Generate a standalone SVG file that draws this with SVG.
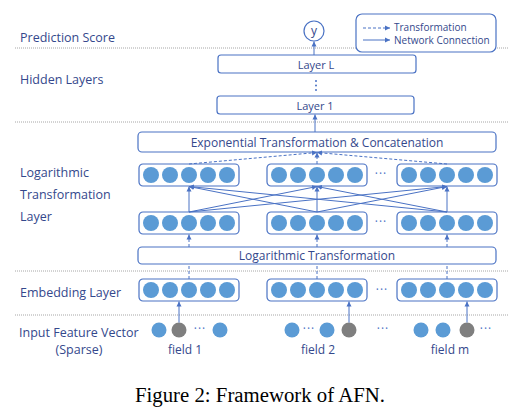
<svg xmlns="http://www.w3.org/2000/svg" width="528" height="416" viewBox="0 0 528 416">
<style>
.lbl{font-family:"Open Sans","Noto Sans",sans-serif;font-size:12.5px;fill:#34488c}
.box{font-family:"Open Sans","Noto Sans",sans-serif;font-size:12px;fill:#34488c;text-anchor:middle}
.sm{font-family:"Open Sans","Noto Sans",sans-serif;font-size:10px;fill:#34488c}
.dots{font-family:"Open Sans","Noto Sans",sans-serif;font-size:12px;fill:#4a72c4;text-anchor:middle;letter-spacing:1px}
.sep{stroke:#a6a6a6;stroke-width:1;stroke-dasharray:1 1;fill:none}
.frame{fill:#fff;stroke:#4a72c4;stroke-width:1.2}
.n{fill:#5b9bd5}
.g{fill:#7f7f7f}
.sol{stroke:#4a72c4;stroke-width:1;fill:none}
.das{stroke:#4a72c4;stroke-width:1;fill:none;stroke-dasharray:3 2}
.cap{font-family:"Liberation Serif","Times New Roman",serif;font-size:20px;fill:#000;text-anchor:middle}
</style>
<defs>
<marker id="ah" markerWidth="6" markerHeight="6" refX="5" refY="3" orient="auto" markerUnits="userSpaceOnUse">
<path d="M0,0.5 L5,3 L0,5.5 Z" fill="#4a72c4"/>
</marker>
<g id="row">
<rect x="0" y="0" width="100" height="22" rx="4" class="frame"/>
<circle cx="12" cy="11" r="8" class="n"/>
<circle cx="31" cy="11" r="8" class="n"/>
<circle cx="50" cy="11" r="8" class="n"/>
<circle cx="69" cy="11" r="8" class="n"/>
<circle cx="88" cy="11" r="8" class="n"/>
</g>
</defs>
<rect width="528" height="416" fill="#fff"/>

<g id="separators">
<line x1="15" y1="48" x2="508" y2="48" class="sep"/>
<line x1="15" y1="122" x2="508" y2="122" class="sep"/>
<line x1="15" y1="271" x2="508" y2="271" class="sep"/>
<line x1="15" y1="315" x2="508" y2="315" class="sep"/>
</g>

<g id="labels">
<text x="20" y="42" class="lbl">Prediction Score</text>
<text x="20" y="84" class="lbl">Hidden Layers</text>
<text x="20" y="177" class="lbl">Logarithmic</text>
<text x="20" y="199" class="lbl">Transformation</text>
<text x="20" y="221" class="lbl">Layer</text>
<text x="20" y="297" class="lbl">Embedding Layer</text>
<text x="19" y="336.5" class="lbl">Input Feature Vector</text>
<text x="79" y="353.5" class="lbl" text-anchor="middle">(Sparse)</text>
</g>

<g id="legend">
<rect x="356" y="14" width="140" height="38" rx="6" class="frame"/>
<line x1="363" y1="28" x2="390" y2="28" class="das" marker-end="url(#ah)"/>
<line x1="363" y1="40" x2="390" y2="40" class="sol" marker-end="url(#ah)"/>
<text x="394" y="31" class="sm">Transformation</text>
<text x="394" y="43.5" class="sm">Network Connection</text>
</g>

<g id="output">
<circle cx="314" cy="31" r="10" fill="#fff" stroke="#4a72c4" stroke-width="1.2"/>
<text x="314" y="35" class="box">y</text>
</g>

<g id="layerL">
<rect x="218" y="55" width="198" height="18" rx="3" class="frame"/>
<text x="316" y="68.5" class="box" style="font-size:11px">Layer L</text>
</g>
<g id="vdots" fill="#4a72c4">
<circle cx="316" cy="81" r="1"/>
<circle cx="316" cy="85.5" r="1"/>
<circle cx="316" cy="90" r="1"/>
</g>
<g id="layer1">
<rect x="217" y="96" width="197" height="18" rx="3" class="frame"/>
<text x="315" y="109.5" class="box" style="font-size:11px">Layer 1</text>
</g>

<g id="exp">
<rect x="138" y="132" width="358" height="20" rx="4" class="frame"/>
<text x="317" y="146.5" class="box">Exponential Transformation &amp; Concatenation</text>
</g>

<g id="logtop">
<use href="#row" x="139" y="164"/>
<use href="#row" x="267" y="164"/>
<use href="#row" x="397" y="164"/>
<text x="381" y="178" class="dots">···</text>
</g>

<g id="logbottom">
<use href="#row" x="139" y="212"/>
<use href="#row" x="267" y="212"/>
<use href="#row" x="397" y="212"/>
<text x="381" y="226" class="dots">···</text>
</g>

<g id="logt">
<rect x="138" y="247" width="358" height="17" rx="4" class="frame"/>
<text x="317" y="260" class="box">Logarithmic Transformation</text>
</g>

<g id="embedding">
<use href="#row" x="139" y="279"/>
<use href="#row" x="267" y="279"/>
<use href="#row" x="397" y="279"/>
<text x="382" y="294" class="dots">···</text>
</g>

<g id="field1">
<circle cx="159" cy="330" r="7.5" class="n"/>
<circle cx="179" cy="330" r="7.5" class="g"/>
<text x="200" y="333" class="dots">···</text>
<circle cx="220" cy="330" r="7.5" class="n"/>
<text x="185" y="354" class="box">field 1</text>
</g>
<g id="field2">
<circle cx="292" cy="330" r="7.5" class="n"/>
<text x="309" y="333" class="dots">···</text>
<circle cx="327" cy="330" r="7.5" class="n"/>
<circle cx="349" cy="330" r="7.5" class="g"/>
<text x="318" y="354" class="box">field 2</text>
</g>
<text x="383" y="333" class="dots">···</text>
<g id="fieldm">
<circle cx="421" cy="330" r="7.5" class="n"/>
<circle cx="443" cy="330" r="7.5" class="n"/>
<circle cx="467" cy="330" r="7.5" class="g"/>
<text x="486" y="333" class="dots">···</text>
<text x="450" y="354" class="box">field m</text>
</g>

<g id="connectors">
<line x1="314" y1="55" x2="314" y2="41.5" class="sol" marker-end="url(#ah)"/>
<line x1="315" y1="132" x2="315" y2="114.5" class="sol" marker-end="url(#ah)"/>
<line x1="189" y1="164" x2="317" y2="152.5" class="das" marker-end="url(#ah)"/>
<line x1="317" y1="164" x2="317" y2="152.5" class="das" marker-end="url(#ah)"/>
<line x1="447" y1="164" x2="317" y2="152.5" class="das" marker-end="url(#ah)"/>
<line x1="189" y1="212" x2="189" y2="186.5" class="sol" marker-end="url(#ah)"/>
<line x1="189" y1="212" x2="317" y2="186.5" class="sol" marker-end="url(#ah)"/>
<line x1="189" y1="212" x2="447" y2="186.5" class="sol" marker-end="url(#ah)"/>
<line x1="317" y1="212" x2="189" y2="186.5" class="sol" marker-end="url(#ah)"/>
<line x1="317" y1="212" x2="317" y2="186.5" class="sol" marker-end="url(#ah)"/>
<line x1="317" y1="212" x2="447" y2="186.5" class="sol" marker-end="url(#ah)"/>
<line x1="447" y1="212" x2="189" y2="186.5" class="sol" marker-end="url(#ah)"/>
<line x1="447" y1="212" x2="317" y2="186.5" class="sol" marker-end="url(#ah)"/>
<line x1="447" y1="212" x2="447" y2="186.5" class="sol" marker-end="url(#ah)"/>
<line x1="189" y1="247" x2="189" y2="234.5" class="das" marker-end="url(#ah)"/>
<line x1="317" y1="247" x2="317" y2="234.5" class="das" marker-end="url(#ah)"/>
<line x1="447" y1="247" x2="447" y2="234.5" class="das" marker-end="url(#ah)"/>
<line x1="189" y1="279" x2="189" y2="264" class="das"/>
<line x1="317" y1="279" x2="317" y2="264" class="das"/>
<line x1="447" y1="279" x2="447" y2="264" class="das"/>
<line x1="179" y1="322.5" x2="179" y2="301.5" class="sol" marker-end="url(#ah)"/>
<line x1="349" y1="322.5" x2="349" y2="301.5" class="sol" marker-end="url(#ah)"/>
<line x1="467" y1="322.5" x2="467" y2="301.5" class="sol" marker-end="url(#ah)"/>
</g>

<text x="260" y="402" class="cap" textLength="250" lengthAdjust="spacingAndGlyphs">Figure 2: Framework of AFN.</text>
</svg>
